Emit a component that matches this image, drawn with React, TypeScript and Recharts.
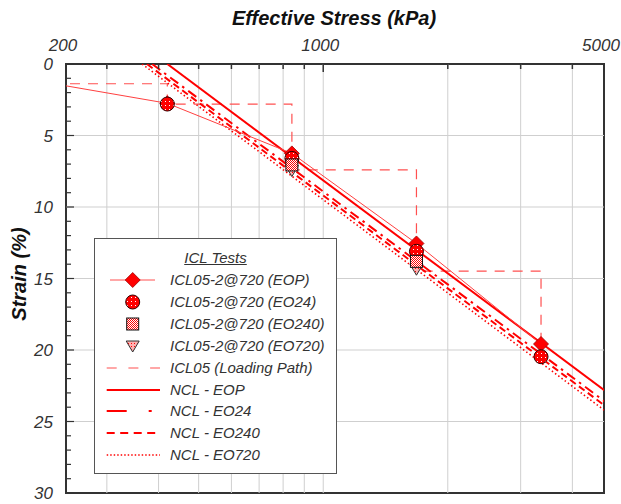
import React from "react";
import { ComposedChart, Line, Scatter, XAxis, YAxis, ReferenceLine, ReferenceArea } from "recharts";

// axis range as drawn (the edge labels read 200 and 5000)
const X_MIN = 239;
const X_MAX = 4770;

const xTicks = [X_MIN, 300, 400, 500, 600, 700, 800, 900, 1000, 2000, 3000, 4000, X_MAX];
const xTickLabels: Record<number, string> = { [X_MIN]: "200", 1000: "1000", [X_MAX]: "5000" };
const xGrid = [300, 400, 500, 600, 700, 800, 900, 1000, 2000, 3000, 4000];
const yTicks = Array.from({ length: 31 }, (_, i) => i);
const yGrid = [5, 10, 15, 20, 25];

// ICL05-2@720 test points
const loadSteps = [420, 840, 1680, 3360];
const eopStrain = [2.75, 6.25, 12.55, 19.58];
const eo24Strain = [2.8, 6.6, 13.1, 20.47];
const eo240Stress = [840, 1680];
const eo240Strain = [7.06, 13.8];
const eo720Stress = [840, 1680];
const eo720Strain = [7.45, 14.35];

// EOP line starts off-axis on the left
const eopLineStress = [200, ...loadSteps];
const eopLineStrain = [1.14, ...eopStrain];

// loading path
const pathStress = [200, 420, 420, 840, 840, 1680, 1680, 3360, 3360];
const pathStrain = [1.38, 1.38, 2.8, 2.8, 7.41, 7.41, 14.48, 14.48, 20.47];

// NCL lines
const nclStress = [5000];
const nclEopStart = 420;
const nclEo24Start = 386;
const nclEo240Start = 375;
const nclEo720Start = 365;
const nclEopEnd = [23.24];
const nclEo24End = [24.0];
const nclEo240End = [24.29];
const nclEo720End = [24.64];

const zip = (xs: number[], ys: number[]) => xs.map((x, i) => ({ x, y: ys[i] }));
const ncl = (start: number, end: number[]) => [{ x: start, y: 0 }, ...zip(nclStress, end)];

const FONT = "'Liberation Sans', Arial, sans-serif";
const RED = "#ff0000";
const TICK_M = 10;

const TopTick = (props: any) => {
  const { x, y, payload } = props;
  const v = payload.value;
  const axisY = y + TICK_M;
  const label = xTickLabels[v];
  const len = label ? 8 : 5;
  return (
    <g>
      <line x1={x} x2={x} y1={axisY} y2={axisY + len} stroke="#333" strokeWidth={1.5} />
      {label && (
        <text x={x - 3} y={axisY - 13} textAnchor="middle" fontSize={17} fontStyle="italic" fill="#333" fontFamily={FONT}>
          {label}
        </text>
      )}
    </g>
  );
};

const LeftTick = (props: any) => {
  const { x, y, payload } = props;
  const v = payload.value;
  const axisX = x + TICK_M;
  const major = v % 5 === 0;
  return (
    <g>
      <line x1={axisX} x2={axisX + (major ? 8 : 5)} y1={y} y2={y} stroke="#333" strokeWidth={1.2} />
      {major && (
        <text x={axisX - 13} y={y + 6} textAnchor="end" fontSize={17} fontStyle="italic" fill="#333" fontFamily={FONT}>
          {v}
        </text>
      )}
    </g>
  );
};

const Diamond = ({ cx, cy }: any) => (
  <path d={`M${cx},${cy - 7.5} L${cx + 7.5},${cy} L${cx},${cy + 7.5} L${cx - 7.5},${cy} Z`} fill={RED} stroke="#a00000" strokeWidth={0.8} />
);
const Dot = ({ cx, cy }: any) => <circle cx={cx} cy={cy} r={7} fill="url(#dotRed)" stroke="#300" strokeWidth={1} />;
const Square = ({ cx, cy }: any) => (
  <rect x={cx - 6} y={cy - 6} width={12} height={12} fill="url(#checkRed)" stroke="#111" strokeWidth={1} />
);
const TriDown = ({ cx, cy }: any) => (
  <path d={`M${cx - 6.5},${cy - 5} L${cx + 6.5},${cy - 5} L${cx},${cy + 6} Z`} fill="url(#triPink)" stroke="#333" strokeWidth={1} />
);

const legendRows = [
  "ICL05-2@720 (EOP)",
  "ICL05-2@720 (EO24)",
  "ICL05-2@720 (EO240)",
  "ICL05-2@720 (EO720)",
  "ICL05 (Loading Path)",
  "NCL - EOP",
  "NCL - EO24",
  "NCL - EO240",
  "NCL - EO720",
];

const LegendSymbol = ({ i }: { i: number }) => {
  const cx = 26.7;
  const cy = 10;
  const seg = (dash: string | undefined, w: number, color = RED) => (
    <line x1={0.7} x2={54} y1={cy} y2={cy} stroke={color} strokeWidth={w} strokeDasharray={dash} />
  );
  switch (i) {
    case 0:
      return (
        <>
          <line x1={4} x2={49} y1={cy} y2={cy} stroke="#ff5050" strokeWidth={1} />
          <Diamond cx={cx} cy={cy} />
        </>
      );
    case 1:
      return <Dot cx={cx} cy={cy} />;
    case 2:
      return <Square cx={cx} cy={cy} />;
    case 3:
      return <TriDown cx={cx} cy={cy} />;
    case 4:
      return seg("10 11.7", 1.2, "#ff5050");
    case 5:
      return seg(undefined, 2);
    case 6:
      return seg("20 22 3 20", 2);
    case 7:
      return seg("8 5.5", 2);
    default:
      return seg("1.5 2", 1.5);
  }
};

export default function App() {
  return (
    <div style={{ position: "absolute", left: 0, top: 0, width: 621, height: 504, background: "#fff", fontFamily: FONT }}>
      <svg width={0} height={0} style={{ position: "absolute" }}>
        <defs>
          <pattern id="dotRed" width={4} height={4} patternUnits="userSpaceOnUse">
            <rect width={4} height={4} fill="#ff0000" />
            <rect x={1} y={1} width={1} height={1} fill="#fff" />
          </pattern>
          <pattern id="checkRed" width={2} height={2} patternUnits="userSpaceOnUse">
            <rect width={2} height={2} fill="#ffffff" />
            <rect width={1} height={1} fill="#ff0000" />
            <rect x={1} y={1} width={1} height={1} fill="#ff0000" />
          </pattern>
          <pattern id="triPink" width={3} height={3} patternUnits="userSpaceOnUse">
            <rect width={3} height={3} fill="#ffb0b0" />
            <rect x={1} y={1} width={1} height={1} fill="#ff0000" />
          </pattern>
        </defs>
      </svg>

      <ComposedChart width={621} height={504} margin={{ top: 0, right: 17, bottom: 11, left: 0 }}>
        <XAxis
          dataKey="x"
          type="number"
          scale="log"
          orientation="top"
          domain={[X_MIN, X_MAX]}
          allowDataOverflow
          ticks={xTicks}
          interval={0}
          height={64}
          axisLine={false}
          tickLine={false}
          tickSize={0}
          tickMargin={TICK_M}
          tick={<TopTick />}
        />
        <YAxis
          dataKey="y"
          type="number"
          reversed
          domain={[0, 30]}
          allowDataOverflow
          ticks={yTicks}
          interval={0}
          width={66}
          axisLine={false}
          tickLine={false}
          tickSize={0}
          tickMargin={TICK_M}
          tick={<LeftTick />}
        />

        {xGrid.map((v) => (
          <ReferenceLine key={"gx" + v} x={v} stroke="#cfcfcf" strokeWidth={1} />
        ))}
        {yGrid.map((v) => (
          <ReferenceLine key={"gy" + v} y={v} stroke="#cfcfcf" strokeWidth={1} />
        ))}

        <Line data={zip(pathStress, pathStrain)} dataKey="y" stroke="#ff5050" strokeWidth={1.2} strokeDasharray="10 8" dot={false} activeDot={false} isAnimationActive={false} />
        <Line data={ncl(nclEopStart, nclEopEnd)} dataKey="y" stroke={RED} strokeWidth={2} dot={false} activeDot={false} isAnimationActive={false} />
        <Line data={ncl(nclEo24Start, nclEo24End)} dataKey="y" stroke={RED} strokeWidth={2} strokeDasharray="10 5 2.5 5" dot={false} activeDot={false} isAnimationActive={false} />
        <Line data={ncl(nclEo240Start, nclEo240End)} dataKey="y" stroke={RED} strokeWidth={2} strokeDasharray="7 4" dot={false} activeDot={false} isAnimationActive={false} />
        <Line data={ncl(nclEo720Start, nclEo720End)} dataKey="y" stroke={RED} strokeWidth={1.6} strokeDasharray="1.5 2.5" dot={false} activeDot={false} isAnimationActive={false} />
        <Line data={zip(eopLineStress, eopLineStrain)} dataKey="y" stroke="#ff4040" strokeWidth={1} dot={false} activeDot={false} isAnimationActive={false} />

        <Scatter data={zip(loadSteps, eopStrain)} dataKey="y" shape={(p: any) => <Diamond cx={p.cx} cy={p.cy} />} isAnimationActive={false} />
        <Scatter data={zip(eo720Stress, eo720Strain)} dataKey="y" shape={(p: any) => <TriDown cx={p.cx} cy={p.cy} />} isAnimationActive={false} />
        <Scatter data={zip(loadSteps, eo24Strain)} dataKey="y" shape={(p: any) => <Dot cx={p.cx} cy={p.cy} />} isAnimationActive={false} />
        <Scatter data={zip(eo240Stress, eo240Strain)} dataKey="y" shape={(p: any) => <Square cx={p.cx} cy={p.cy} />} isAnimationActive={false} />

        <ReferenceArea x1={X_MIN} x2={X_MAX} y1={0} y2={30} fill="none" fillOpacity={0} stroke="#333" strokeWidth={2} />
      </ComposedChart>

      <div style={{ position: "absolute", left: 334, top: 18, transform: "translate(-50%, -50%)", fontSize: 20, fontWeight: "bold", fontStyle: "italic", color: "#111", whiteSpace: "nowrap" }}>
        Effective Stress (kPa)
      </div>
      <div style={{ position: "absolute", left: 19, top: 274, transform: "translate(-50%, -50%) rotate(-90deg)", fontSize: 20, fontWeight: "bold", fontStyle: "italic", color: "#111", whiteSpace: "nowrap" }}>
        Strain (%)
      </div>

      <div style={{ position: "absolute", left: 94, top: 238, width: 241, height: 234, border: "1px solid #555", background: "#fff" }}>
        <div style={{ position: "absolute", left: 0, width: "100%", top: 10, lineHeight: "18px", textAlign: "center", fontSize: 15, fontStyle: "italic", color: "#333", textDecoration: "underline" }}>
          ICL Tests
        </div>
        {legendRows.map((label, i) => {
          const rowY = 280 + 21.9 * i - 239;
          return (
            <React.Fragment key={label}>
              <svg width={60} height={20} style={{ position: "absolute", left: 11, top: rowY - 10 }}>
                <LegendSymbol i={i} />
              </svg>
              <div style={{ position: "absolute", left: 75, top: rowY - 9, lineHeight: "18px", fontSize: 15, fontStyle: "italic", color: "#333", whiteSpace: "nowrap" }}>
                {label}
              </div>
            </React.Fragment>
          );
        })}
      </div>
    </div>
  );
}
